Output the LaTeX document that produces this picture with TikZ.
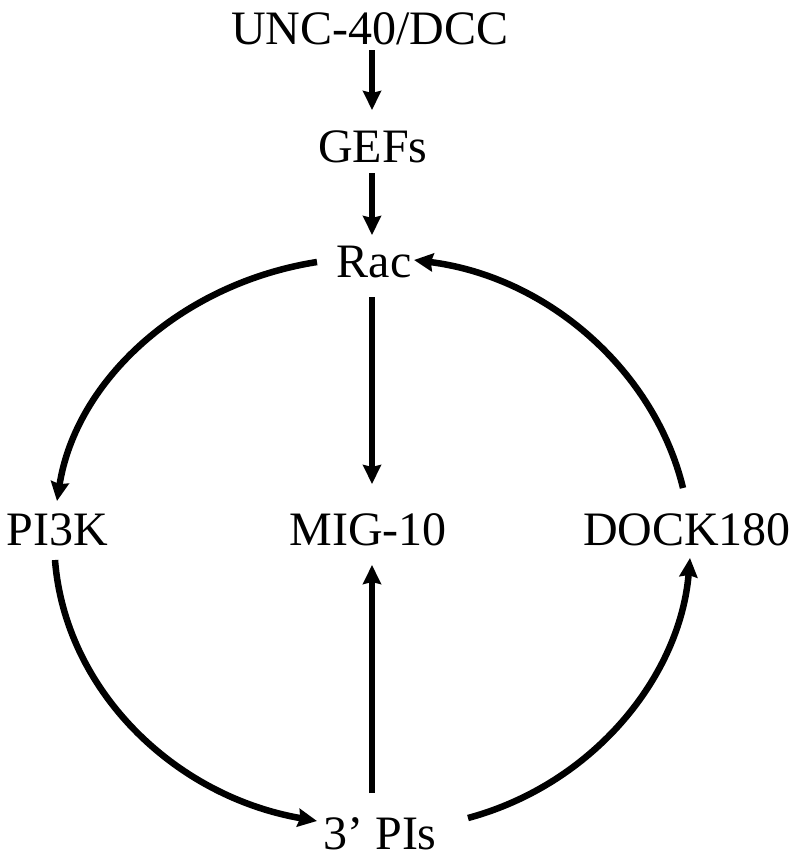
\documentclass[tikz,border=0pt]{standalone}
\usepackage{fontspec}
\setmainfont{Liberation Serif}
\usetikzlibrary{arrows.meta}
\begin{document}
\begin{tikzpicture}[x=1pt,y=-1pt,
  lbl/.style={inner sep=0pt,outer sep=0pt,text height=32pt,text depth=0pt,anchor=base,
    font=\fontsize{48}{56}\selectfont},
  arr/.style={line width=6.5pt,-{Stealth[length=19pt,width=18pt,inset=2pt]}}]
\useasboundingbox (0,0) rectangle (800,863);
\node[lbl] (unc)  at (370,44)  {UNC-40/DCC};
\node[lbl] (gefs) at (373,162) {GEFs};
\node[lbl] (rac)  at (374,277) {Rac};
\node[lbl] (pik)  at (57,545)  {PI3K};
\node[lbl] (mig)  at (368,545) {MIG-10};
\node[lbl] (dock) at (687,545) {DOCK180};
\node[lbl] (pis)  at (380,849) {3’ PIs};
% straight arrows
\draw[arr] ([shift={(2,22)}]unc.center) -- ([shift={(-1,-36)}]gefs.center);
\draw[arr] ([shift={(-1,27)}]gefs.center) -- ([shift={(-2,-26)}]rac.center);
\draw[arr] ([shift={(-2,36)}]rac.center) -- ([shift={(4,-45)}]mig.center);
\draw[arr] ([shift={(-8,-40)}]pis.center) -- ([shift={(4,36)}]mig.center);
% curved arrows
\draw[arr] ([shift={(-57,1)}]rac.center) .. controls (181,283.5) and (76,380) .. ([shift={(0,-28)}]pik.center);
\draw[arr] ([shift={(-2,31)}]pik.center) .. controls (65,689) and (173,796) .. ([shift={(-63,-12)}]pis.center);
\draw[arr] ([shift={(88,-15)}]pis.center) .. controls (594,784) and (680,676) .. ([shift={(3,29)}]dock.center);
\draw[arr] ([shift={(-4,-41)}]dock.center) .. controls (655,372) and (549,277) .. ([shift={(40,-1)}]rac.center);
\end{tikzpicture}
\end{document}
